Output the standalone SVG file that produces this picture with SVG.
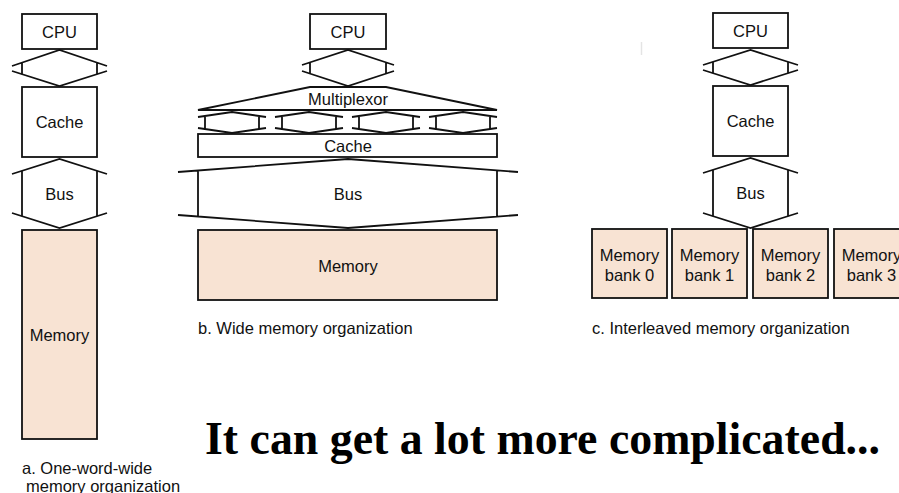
<svg xmlns="http://www.w3.org/2000/svg" width="899" height="493" viewBox="0 0 899 493">
  <style>
    .box { fill: #ffffff; stroke: #111111; stroke-width: 1.8; }
    .mem { fill: #f8e3d3; stroke: #111111; stroke-width: 1.8; }
    .wire { fill: none; stroke: #111111; stroke-width: 1.8; stroke-linejoin: miter; }
    .lbl { font-family: "Liberation Sans", Arial, sans-serif; font-size: 16.5px; fill: #111111; text-anchor: middle; }
    .cap { font-family: "Liberation Sans", Arial, sans-serif; font-size: 16.5px; fill: #111111; }
    .title { font-family: "Liberation Serif", "Times New Roman", serif; font-weight: bold; font-size: 46px; fill: #000000; }
  </style>
  <rect width="899" height="493" fill="#ffffff"/>

  <!-- a. One-word-wide memory organization -->
  <g id="a-cpu"><rect class="box" x="22" y="14" width="75" height="35"/><text class="lbl" x="59.5" y="37.5">CPU</text></g>
  <g id="a-cache"><rect class="box" x="22" y="87" width="75" height="70"/><text class="lbl" x="59.5" y="128">Cache</text></g>
  <g id="a-memory"><rect class="mem" x="22" y="230" width="75" height="209"/><text class="lbl" x="59.5" y="341">Memory</text></g>
  <g id="a-bus-label"><text class="lbl" x="59.5" y="200">Bus</text></g>
  <g id="a-caption"><text class="cap" x="22" y="474">a. One-word-wide</text><text class="cap" x="26" y="492">memory organization</text></g>

  <!-- b. Wide memory organization -->
  <g id="b-cpu"><rect class="box" x="310" y="14" width="76" height="35"/><text class="lbl" x="348" y="37.5">CPU</text></g>
  <g id="b-mux"><polygon class="box" points="310,87 386,87 497,110 198,110"/><text class="lbl" x="348" y="104.5">Multiplexor</text></g>
  <g id="b-cache"><rect class="box" x="198" y="134" width="299" height="23"/><text class="lbl" x="348" y="151.5">Cache</text></g>
  <g id="b-memory"><rect class="mem" x="198" y="230" width="299" height="70"/><text class="lbl" x="348" y="271.5">Memory</text></g>
  <g id="b-bus-label"><text class="lbl" x="348" y="200">Bus</text></g>
  <g id="b-caption"><text class="cap" x="198" y="334">b. Wide memory organization</text></g>

  <!-- c. Interleaved memory organization -->
  <g id="c-cpu"><rect class="box" x="713" y="13" width="75" height="35"/><text class="lbl" x="750.5" y="36.5">CPU</text></g>
  <g id="c-cache"><rect class="box" x="713" y="86" width="75" height="70"/><text class="lbl" x="750.5" y="127">Cache</text></g>
  <g id="c-bus-label"><text class="lbl" x="750.5" y="199">Bus</text></g>
  <g id="c-bank0"><rect class="mem" x="592" y="229" width="75" height="69"/><text class="lbl" x="629.5" y="261">Memory</text><text class="lbl" x="629.5" y="281">bank 0</text></g>
  <g id="c-bank1"><rect class="mem" x="672" y="229" width="75" height="69"/><text class="lbl" x="709.5" y="261">Memory</text><text class="lbl" x="709.5" y="281">bank 1</text></g>
  <g id="c-bank2"><rect class="mem" x="753" y="229" width="75" height="69"/><text class="lbl" x="790.5" y="261">Memory</text><text class="lbl" x="790.5" y="281">bank 2</text></g>
  <g id="c-bank3"><rect class="mem" x="834" y="229" width="75" height="69"/><text class="lbl" x="871.5" y="261">Memory</text><text class="lbl" x="871.5" y="281">bank 3</text></g>
  <g id="c-caption"><text class="cap" x="592" y="334">c. Interleaved memory organization</text></g>

  <!-- connectors: bus/link shapes -->
  <g id="connectors">
    <!-- a: CPU-cache link and bus -->
    <path class="wire" d="M12,66 L59.5,50 L107,66 M12,71 L59.5,86 L107,71 M22,62.6 V74.4 M97,62.6 V74.4"/>
    <path class="wire" d="M12,174 L59.5,159 L107,174 M12,213 L59.5,228 L107,213 M22,170.8 V216.2 M97,170.8 V216.2"/>
    <!-- b: CPU-mux link, mux-cache links, wide bus -->
    <path class="wire" d="M302,65 L348,50 L394,65 M302,71 L348,86 L394,71 M310,62.4 V73.6 M386,62.4 V73.6"/>
    <path class="wire" d="M198,117 L232,112 L266,117 M198,128 L232,133 L266,128 M205,116 V129 M259,116 V129"/>
    <path class="wire" d="M275,117 L309,112 L343,117 M275,128 L309,133 L343,128 M282,116 V129 M336,116 V129"/>
    <path class="wire" d="M352,117 L386,112 L420,117 M352,128 L386,133 L420,128 M359,116 V129 M413,116 V129"/>
    <path class="wire" d="M429,117 L463,112 L497,117 M429,128 L463,133 L497,128 M436,116 V129 M490,116 V129"/>
    <path class="wire" d="M178,172 L348,159 L518,172 M178,215 L348,228 L518,215 M198,170.5 V216.5 M497,170.5 V216.5"/>
    <!-- c: CPU-cache link and bus -->
    <path class="wire" d="M703,65 L750.5,50 L798,65 M703,70 L750.5,85 L798,70 M713,61.8 V73.2 M788,61.8 V73.2"/>
    <path class="wire" d="M703,173 L750.5,158 L798,173 M703,213 L750.5,228 L798,213 M713,169.8 V216.2 M788,169.8 V216.2"/>
  </g>

  <line x1="641.5" y1="42" x2="641.5" y2="55" stroke="#e4e4e4" stroke-width="1.5"/>

  <text class="title" x="205" y="454" textLength="675" lengthAdjust="spacingAndGlyphs">It can get a lot more complicated...</text>
</svg>
